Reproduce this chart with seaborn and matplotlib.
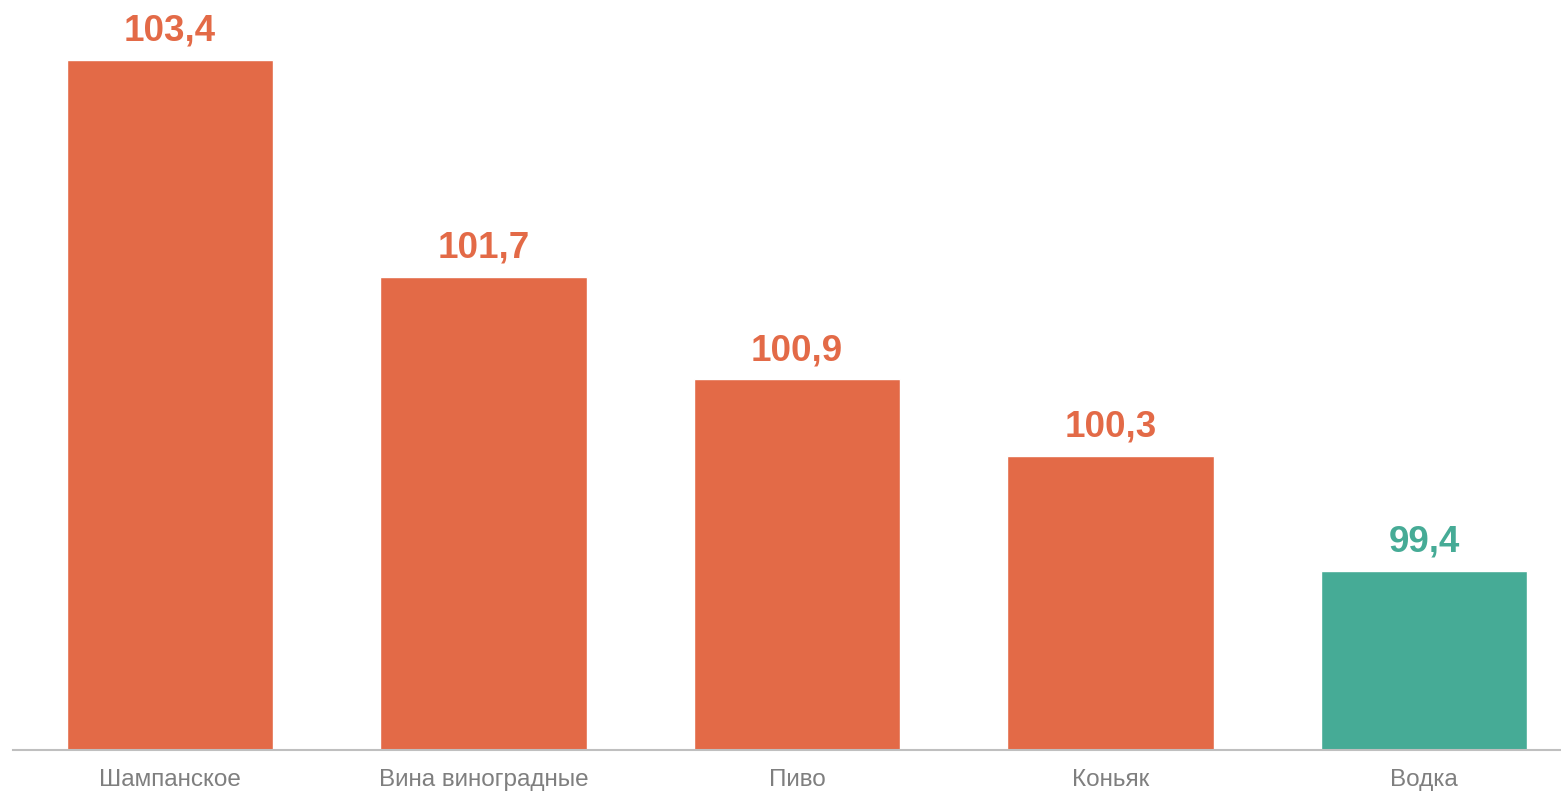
import pandas as pd
import seaborn as sns
import matplotlib.pyplot as plt

categories = ["Шампанское", "Вина виноградные", "Пиво", "Коньяк", "Водка"]
values = [103.4, 101.7, 100.9, 100.3, 99.4]
labels = ["103,4", "101,7", "100,9", "100,3", "99,4"]
colors = ["#E36A47", "#E36A47", "#E36A47", "#E36A47", "#46AB96"]

df = pd.DataFrame({"cat": categories, "val": values})

sns.set_style("white")
plt.rcParams["font.family"] = ["Liberation Sans", "DejaVu Sans"]

fig = plt.figure(figsize=(15.61, 7.93), dpi=100)
ax = fig.add_axes([13.25 / 1561, 1 - 750 / 793, 1567.5 / 1561, 750 / 793])

sns.barplot(data=df, x="cat", y="val", hue="cat", palette=colors,
            legend=False, width=0.66, ax=ax, saturation=1)

ax.set_ylim(98, 103.87)
ax.set_xlim(-0.5, 4.5)

for i, (v, lab) in enumerate(zip(values, labels)):
    ax.annotate(lab, (i, v), xytext=(0, 14), textcoords="offset points",
                ha="center", va="baseline", fontsize=26.5, fontweight="bold",
                color=colors[i])

for s in ["top", "right", "left"]:
    ax.spines[s].set_visible(False)
ax.spines["bottom"].set_color("#BFBFBF")
ax.spines["bottom"].set_linewidth(1.5)
ax.set_yticks([])
ax.set_xlabel("")
ax.set_ylabel("")
ax.tick_params(axis="x", length=0, pad=14, labelsize=17.5, labelcolor="#7F7F7F")

fig.savefig("out.png", dpi=100)
